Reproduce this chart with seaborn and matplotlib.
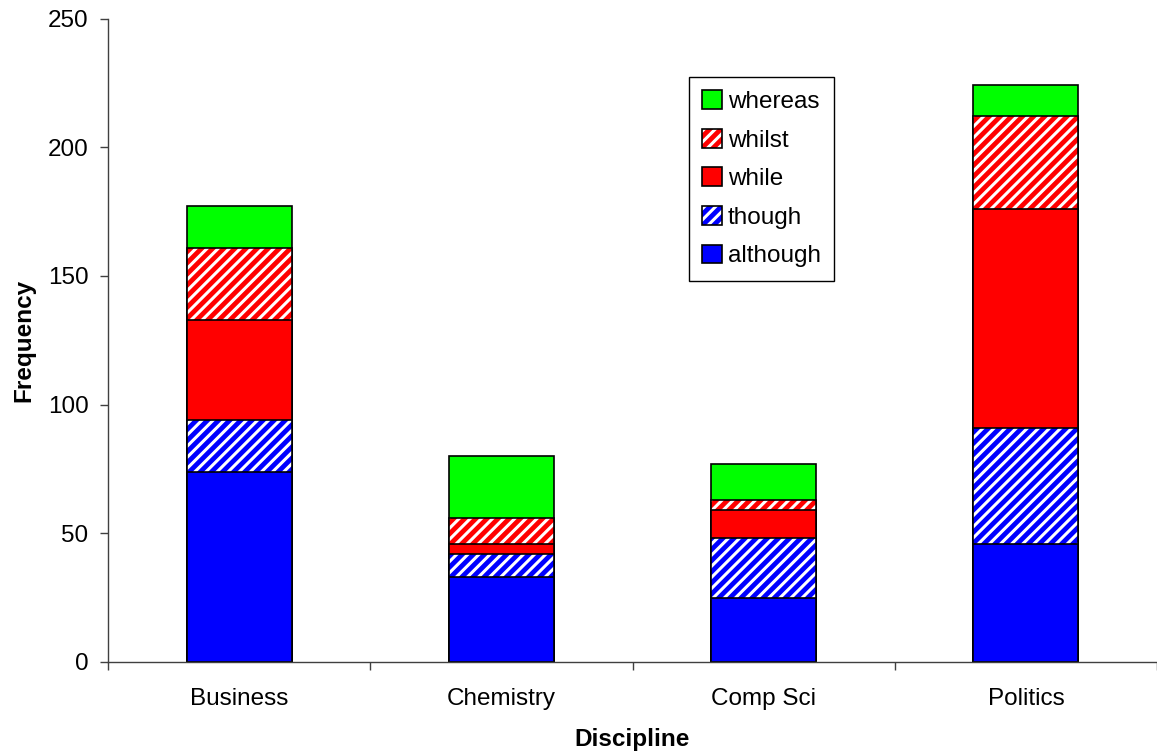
import matplotlib
matplotlib.use("Agg")
import matplotlib.pyplot as plt
import seaborn as sns
import numpy as np
import pandas as pd
from matplotlib.patches import Patch

categories = ["Business", "Chemistry", "Comp Sci", "Politics"]
series_names = ["although", "though", "while", "whilst", "whereas"]
although = [74, 33, 25, 46]
though = [20, 9, 23, 45]
while_ = [39, 4, 11, 85]
whilst = [28, 10, 4, 36]
whereas = [16, 24, 14, 12]
colors = ["#0000FF", "#0000FF", "#FF0000", "#FF0000", "#00FF00"]
hatches = [None, "///", None, "///", None]

sns.set_theme(style="ticks")
plt.rcParams["font.family"] = ["Liberation Sans", "DejaVu Sans"]
plt.rcParams["hatch.linewidth"] = 2.2
plt.rcParams["text.color"] = "black"
plt.rcParams["axes.labelcolor"] = "black"

FS = 17.5

fig = plt.figure(figsize=(11.57, 7.53), dpi=100)
ax = fig.add_axes([108 / 1157, 1 - 662 / 753, 1.0 - 108 / 1157, (662 - 18.5) / 753])

vals = np.array([although, though, while_, whilst, whereas], dtype=float)
cum = np.cumsum(vals, axis=0)

handles = []
for i in range(len(series_names) - 1, -1, -1):
    df = pd.DataFrame({"cat": categories, "val": cum[i]})
    sns.barplot(data=df, x="cat", y="val", order=categories, color=colors[i],
                saturation=1, width=0.4, ax=ax, hatch=hatches[i],
                edgecolor="white", linewidth=0, errorbar=None)
    sns.barplot(data=df, x="cat", y="val", order=categories, fill=False,
                width=0.4, ax=ax, edgecolor="black", linewidth=1.2,
                errorbar=None)
    h1 = Patch(facecolor=colors[i], hatch=hatches[i], edgecolor="white", linewidth=0)
    h2 = Patch(facecolor="none", edgecolor="black", linewidth=1.2)
    handles.append((h1, h2))

ax.set_ylim(0, 250)
ax.set_xlim(-0.5, 3.49)
ax.set_yticks([0, 50, 100, 150, 200, 250])
ax.tick_params(axis="y", labelsize=FS, length=6, width=1, color="#404040", labelcolor="black", pad=8)
ax.set_xticks([-0.5, 0.5, 1.5, 2.5, 3.5])
ax.set_xticklabels([])
ax.set_xticks(range(len(categories)), minor=True)
ax.set_xticklabels(categories, minor=True)
ax.tick_params(axis="x", which="major", length=6, width=1, color="#404040")
ax.tick_params(axis="x", which="minor", length=0, labelsize=FS, pad=19, labelcolor="black")
sns.despine(ax=ax)
for s in ["left", "bottom"]:
    ax.spines[s].set_color("#404040")
    ax.spines[s].set_linewidth(1)

ax.set_xlabel("Discipline", fontsize=FS, fontweight="bold", labelpad=13, color="black")
ax.set_ylabel("Frequency", fontsize=FS, fontweight="bold", labelpad=9, color="black")

leg = fig.legend(handles, series_names[::-1], loc="upper left",
                 bbox_to_anchor=(689 / 1157, 1 - 77 / 753),
                 fontsize=FS, frameon=True, fancybox=False, framealpha=1,
                 edgecolor="black", handlelength=0.8, handleheight=0.8,
                 handletextpad=0.25, labelspacing=0.65, borderpad=0.55,
                 borderaxespad=0)
leg.get_frame().set_linewidth(1.0)
for t in leg.get_texts():
    t.set_color("black")

fig.savefig("out.png", dpi=100)
